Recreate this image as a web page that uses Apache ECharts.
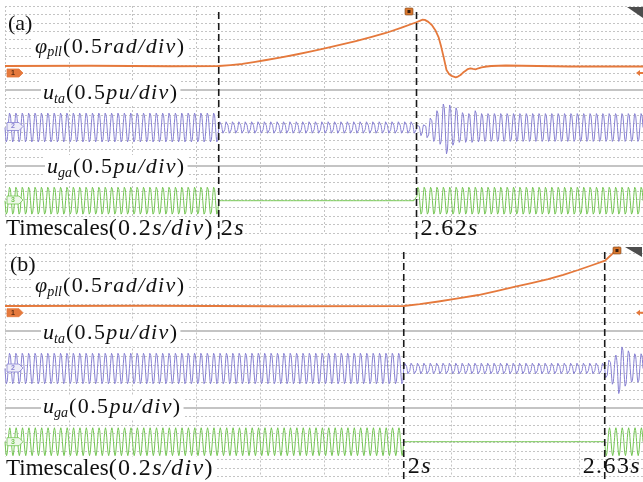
<!DOCTYPE html>
<html>
<head>
<meta charset="utf-8">
<script src="https://cdn.jsdelivr.net/npm/echarts/dist/echarts.min.js"></script>
<style>
  html, body { margin: 0; padding: 0; background: #fff; }
  #chart { width: 643px; height: 482px; }
</style>
</head>
<body>
<div id="chart"></div>
<script>
// ---------------- recorded data ----------------
// Time window of each screen (s): 10 divisions of 0.2 s
const screenA = [1.33, 3.33];
const screenB = [0.75, 2.75];
// Fault / reclosing instants marked with dashed cursors (s)
const eventsA = [2.00, 2.62];
const eventsB = [2.00, 2.63];
const eventNumA = ['2', '2.62'];
const eventNumB = ['2', '2.63'];

// PLL phase angle (rad), screen (a)
const phiA_t = [1.33, 1.60, 1.85, 2.00, 2.037, 2.074, 2.11, 2.149, 2.196, 2.243, 2.29, 2.336, 2.383,
                2.43, 2.477, 2.524, 2.571, 2.6175, 2.630, 2.638, 2.646, 2.657, 2.668, 2.679, 2.689,
                2.697, 2.705, 2.714, 2.722, 2.730, 2.736, 2.743, 2.750, 2.758, 2.766, 2.774, 2.781,
                2.789, 2.797, 2.805, 2.814, 2.824, 2.840, 2.855, 2.90, 3.10, 3.33];
const phiA_v = [0.00, 0.005, -0.005, 0.00, 0.018, 0.04, 0.077, 0.119, 0.172, 0.228, 0.29, 0.357, 0.425,
                0.496, 0.573, 0.655, 0.755, 0.863, 0.895, 0.918, 0.915, 0.875, 0.813, 0.71, 0.575,
                0.39, 0.179, -0.079, -0.16, -0.198, -0.218, -0.224, -0.21, -0.179, -0.13, -0.093, -0.06,
                -0.046, -0.058, -0.065, -0.045, -0.026, -0.01, 0.00, 0.01, -0.01, -0.01];
// PLL phase angle (rad), screen (b)
const phiB_t = [0.75, 1.20, 1.60, 2.00, 2.05, 2.109, 2.17, 2.234, 2.29, 2.35, 2.40, 2.453, 2.50,
                2.547, 2.59, 2.631, 2.65, 2.666, 2.675];
const phiB_v = [0.00, 0.005, -0.005, 0.00, 0.035, 0.087, 0.147, 0.213, 0.29, 0.374, 0.445, 0.52, 0.605,
                0.698, 0.79, 0.878, 0.988, 1.085, 1.143];

// 50 Hz voltages: runs of [tStart, tEnd, positive crest, negative crest] (pu)
const utaA_runs = [[1.33, 2.00, 0.30, -0.30], [2.00, 2.62, 0.14, -0.14], [2.84, 3.33, 0.29, -0.29]];
// cycle-by-cycle crests of u_ta after reclosing at 2.62 s (pu)
const utaA_postTop    = [0.07, 0.09, 0.23, 0.35, 0.49, 0.47, 0.41, 0.31, 0.29, 0.35, 0.29];
const utaA_postBottom = [-0.17, -0.25, -0.29, -0.35, -0.55, -0.37, -0.31, -0.31, -0.31, -0.30, -0.29];
const ugaA_runs = [[1.33, 2.00, 0.28, -0.28], [2.00, 2.62, 0, 0], [2.62, 3.33, 0.28, -0.28]];

const utaB_runs = [[0.75, 2.00, 0.31, -0.31], [2.00, 2.63, 0.126, -0.126]];
// cycle-by-cycle crests of u_ta after reclosing at 2.63 s (pu)
const utaB_postTop    = [0.20, 0.26, 0.44, 0.36, 0.30, 0.30];
const utaB_postBottom = [-0.22, -0.32, -0.51, -0.36, -0.28, -0.28];
const ugaB_runs = [[0.75, 2.00, 0.27, -0.27], [2.00, 2.63, 0, 0], [2.63, 2.75, 0.27, -0.27]];

// ---------------- helpers ----------------
const FREQ = 50, STEP = 0.001;
function cycleRuns(start, tops, bottoms) {
  return tops.map((tp, i) => [start + i / FREQ, start + (i + 1) / FREQ, tp, bottoms[i]]);
}
function acTrace(runs) {
  const pts = [];
  runs.slice().sort((a, b) => a[0] - b[0]).forEach(([t0, t1, top, bot]) => {
    const n = Math.round((t1 - t0) / STEP);
    for (let k = 0; k <= n; k++) {
      const t = t0 + k * STEP;
      const s = Math.sin(2 * Math.PI * FREQ * t);
      pts.push([t, s >= 0 ? s * top : -s * bot]);
    }
  });
  return pts;
}
const zip = (a, b) => a.map((v, i) => [v, b[i]]);

// ---------------- layout ----------------
const SUBS = 27;                       // dotted sub-divisions per screen
const panels = [
  { top: 6, sub: 8.4, zero: [66, 127.5, 200.7], t: screenA },
  { top: 244.5, sub: 8.6, zero: [306, 368.5, 441.7], t: screenB }
];
// 0.5 unit per division, 3 sub-divisions per division
function chanAxis(g, p, zeroPx) {
  const above = (zeroPx - p.top) / p.sub / 6;
  return { gridIndex: g, type: 'value', min: above - SUBS / 6, max: above, show: false };
}

const ORANGE = '#e5793c', VIOLET = '#8780d2', GREEN = '#74c553';
const gridDots = { type: [2, 2], color: '#c4c4c4', width: 1 };

const grids = [], xAxes = [], yAxes = [];
panels.forEach((p, g) => {
  grids.push({ left: 5, top: p.top, width: 640, height: p.sub * SUBS });
  xAxes.push({ gridIndex: g, type: 'value', min: 0, max: 10, interval: 1,
    axisLine: { show: false }, axisTick: { show: false }, axisLabel: { show: false },
    splitLine: { show: true, lineStyle: gridDots } });
  xAxes.push({ gridIndex: g, type: 'value', min: p.t[0], max: p.t[1], show: false });
  yAxes.push({ gridIndex: g, type: 'value', min: 0, max: SUBS, interval: 1, inverse: true,
    axisLine: { show: false }, axisTick: { show: false }, axisLabel: { show: false },
    splitLine: { show: true, lineStyle: gridDots } });
  p.zero.forEach(z => yAxes.push(chanAxis(g, p, z)));
});

function separators(g) {
  return {
    type: 'line', xAxisIndex: 2 * g, yAxisIndex: 4 * g, data: [[0, 10]], silent: true,
    showSymbol: false, lineStyle: { opacity: 0 },
    markLine: { silent: true, symbol: 'none', label: { show: false },
      lineStyle: { type: 'solid', color: '#c4c4c4', width: 2 },
      data: [{ yAxis: 10 }, { yAxis: 19 }] }
  };
}
function trace(g, ch, data, color, width) {
  return { type: 'line', xAxisIndex: 2 * g + 1, yAxisIndex: 4 * g + 1 + ch, data,
    showSymbol: false, lineStyle: { color, width, join: 'round' }, z: 3 };
}

const series = [
  separators(0), separators(1),
  trace(0, 0, zip(phiA_t, phiA_v), ORANGE, 1.8),
  trace(0, 1, acTrace(utaA_runs.concat(cycleRuns(eventsA[1], utaA_postTop, utaA_postBottom))), VIOLET, 1),
  trace(0, 2, acTrace(ugaA_runs), GREEN, 1),
  trace(1, 0, zip(phiB_t, phiB_v), ORANGE, 1.8),
  trace(1, 1, acTrace(utaB_runs.concat(cycleRuns(eventsB[1], utaB_postTop, utaB_postBottom))), VIOLET, 1),
  trace(1, 2, acTrace(ugaB_runs), GREEN, 1)
];

const chart = echarts.init(document.getElementById('chart'), null, { renderer: 'canvas' });
chart.setOption({ animation: false, backgroundColor: '#fff', grid: grids, xAxis: xAxes, yAxis: yAxes, series });

// ---------------- annotations ----------------
const SERIF = '"Liberation Serif", "DejaVu Serif", serif';
const INK = '#111';
const rich = {
  r:  { fontFamily: SERIF, fontSize: 22, fill: INK },
  i:  { fontFamily: SERIF, fontSize: 22, fontStyle: 'italic', fill: INK },
  s:  { fontFamily: SERIF, fontSize: 14, fontStyle: 'italic', fill: INK, padding: [11, 1, 0, 0] },
  // math-mode glyphs are set a little looser than text
  mr: { fontFamily: SERIF, fontSize: 22, fill: INK, padding: [0, 1.4, 0, 0] },
  mi: { fontFamily: SERIF, fontSize: 22, fontStyle: 'italic', fill: INK, padding: [0, 1.4, 0, 0] },
  tr: { fontFamily: SERIF, fontSize: 23, fill: INK },
  br: { fontFamily: SERIF, fontSize: 24, fill: INK, padding: [0, 1.4, 0, 0] },
  bi: { fontFamily: SERIF, fontSize: 24, fontStyle: 'italic', fill: INK, padding: [0, 1.4, 0, 0] }
};
const spaced = (str, st) => str.split('').map(c => '{' + st + '|' + c + '}').join('');

function label(x, y, text, bg) {
  return { type: 'text', x, y, z: 20, style: { text, rich, verticalAlign: 'middle',
    backgroundColor: bg ? '#fff' : null, padding: bg ? [0, 2, 0, 2] : 0 } };
}
function dashed(x, y1, y2) {
  return { type: 'line', z: 15, shape: { x1: x, y1, x2: x, y2 },
    style: { stroke: '#1a1a1a', lineWidth: 1.6, lineDash: [7, 4] } };
}
function leftTag(y, fill, stroke, num, numColor) {
  return [
    { type: 'polygon', z: 12, shape: { points: [[7, y - 4], [19, y - 4], [23, y], [19, y + 4], [7, y + 4]] },
      style: { fill, stroke, lineWidth: 0.8 } },
    { type: 'text', z: 13, x: 11, y, style: { text: num, font: 'bold 7px sans-serif', fill: numColor, verticalAlign: 'middle' } }
  ];
}
function rightTag(y) {
  return { type: 'polygon', z: 12, shape: { points: [[636, y], [640, y - 3], [640, y - 1], [643, y - 1], [643, y + 1], [640, y + 1], [640, y + 3]] },
    style: { fill: ORANGE } };
}
function trigTag(x, y) {
  return [
    { type: 'rect', z: 12, shape: { x, y, width: 8, height: 7, r: 1 }, style: { fill: '#d9782f', stroke: '#7a4214', lineWidth: 0.6 } },
    { type: 'rect', z: 13, shape: { x: x + 2.5, y: y + 2, width: 3, height: 3 }, style: { fill: '#3a2010' } }
  ];
}
function cornerTri(x1, x2, y1, y2) {
  return { type: 'polygon', z: 12, shape: { points: [[x1, y1], [x2, y1], [x2, y2]] }, style: { fill: '#4d4d4d' } };
}

const xa = eventsA.map(t => chart.convertToPixel({ xAxisIndex: 1 }, t));
const xb = eventsB.map(t => chart.convertToPixel({ xAxisIndex: 3 }, t));

const phiText = '{i|φ}{s|pll}' + spaced('(0.5', 'mr') + spaced('rad/div', 'mi') + spaced(')', 'mr');
const utaText = '{i|u}{s|ta}' + spaced('(0.5', 'mr') + spaced('pu/div', 'mi') + spaced(')', 'mr');
const ugaText = '{i|u}{s|ga}' + spaced('(0.5', 'mr') + spaced('pu/div', 'mi') + spaced(')', 'mr');
const tsText  = '{tr|Timescales}' + spaced('(0.2', 'br') + spaced('s/div', 'bi') + spaced(')', 'br');
const evText  = num => spaced(num, 'br') + '{bi|s}';

const graphics = [
  // screen (a)
  label(8, 24.5, '{r|(a)}'),
  label(33, 47, phiText, true),
  label(41, 93.5, utaText, true),
  label(45, 167.5, ugaText, true),
  label(4, 229, tsText, true),
  dashed(xa[0], 12, 241), dashed(xa[1], 12, 241),
  label(xa[0] + 2, 228.5, evText(eventNumA[0])),
  label(xa[1] + 4, 229, evText(eventNumA[1])),
  ...leftTag(73, ORANGE, ORANGE, '1', '#5a2a10'),
  ...leftTag(126.5, '#eeedf8', VIOLET, '2', VIOLET),
  ...leftTag(200, '#eef8ea', GREEN, '3', GREEN),
  rightTag(73),
  ...trigTag(405, 8),
  cornerTri(627, 643, 7, 18),
  // screen (b)
  label(10, 265, '{r|(b)}'),
  label(33, 286.5, phiText, true),
  label(41, 333.5, utaText, true),
  label(41, 407.5, ugaText, true),
  label(4, 469, tsText, true),
  dashed(xb[0], 252, 481), dashed(xb[1], 252, 481),
  label(xb[0] + 4, 466.5, evText(eventNumB[0])),
  label(xb[1] - 22, 466.5, evText(eventNumB[1])),
  ...leftTag(312.7, ORANGE, ORANGE, '1', '#5a2a10'),
  ...leftTag(368, '#eeedf8', VIOLET, '2', VIOLET),
  ...leftTag(441.7, '#eef8ea', GREEN, '3', GREEN),
  rightTag(312.7),
  ...trigTag(613, 247),
  cornerTri(625, 642, 247, 257)
];
chart.setOption({ graphic: graphics });
</script>
</body>
</html>
